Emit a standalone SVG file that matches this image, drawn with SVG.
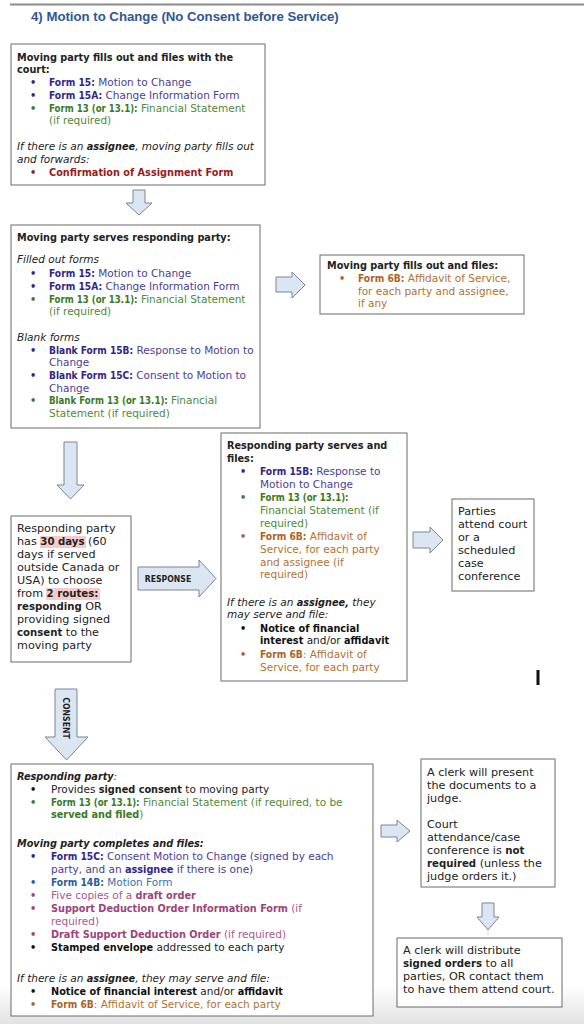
<svg xmlns="http://www.w3.org/2000/svg" width="584" height="1024" viewBox="0 0 584 1024">
<defs>
<linearGradient id="shade" x1="0" y1="0" x2="0" y2="1">
<stop offset="0" stop-color="#ffffff"/>
<stop offset="1" stop-color="#e2e2e2"/>
</linearGradient>
</defs>
<style>
.box{fill:#fff;stroke:#6b6b6b;stroke-width:1}
.arr{fill:#dce6f2;stroke:#7a8594;stroke-width:1}
text{font-family:"DejaVu Sans",sans-serif;font-size:10.5px;fill:#222}
.b,.pub,.grb,.orb,.rd,.pkb,.blb,.lbl{font-family:"DejaVu Sans Condensed","DejaVu Sans",sans-serif;font-weight:bold;font-stretch:condensed;font-size:10.8px}
.i{font-style:italic}
.pu{fill:#4a3d9a}
.pub{fill:#32258a}
.gr{fill:#4e8a3b}
.grb{fill:#3a7a25}
.or{fill:#b5712f}
.orb{fill:#ad6322}
.rd{fill:#9c1a1a}
.pk{fill:#a85a8c}
.pkb{fill:#9c4479}
.bl{fill:#3b6fb0}
.blb{fill:#2a5ca3}
.k{fill:#111}
.n1{font-size:10.2px}
.n2{font-size:10.1px}
.n3{font-size:9.6px}
.lg text{font-size:11.2px}
.lg .b{font-size:11.3px}
.title{font-family:"Liberation Sans",Arial,sans-serif;font-size:13.2px;font-weight:bold;fill:#2f5597}
.lbl{font-size:8.6px;fill:#222}
</style>
<rect x="0" y="985" width="584" height="39" fill="url(#shade)"/>
<line x1="10" y1="4.5" x2="584" y2="4.5" stroke="#8c8c8c" stroke-width="2"/>
<text class="title" x="31" y="21">4)  Motion to Change (No Consent before Service)</text>

<g id="connectors">
<path class="arr" d="M133,190H145V203H152L139,215L126,203H133Z"/>
<path class="arr" d="M276,277H292V272L305,285L292,298V292H276Z"/>
<path class="arr" d="M64,442H77V485H84L70.5,499L57,485H64Z"/>
<path class="arr" d="M138,567H199V560L216,578.5L199,597V590H138Z"/>
<text class="lbl" x="168" y="581.5" text-anchor="middle">RESPONSE</text>
<path class="arr" d="M55,689H77V737H88L66.5,760L45,737H55Z"/>
<text class="lbl" transform="translate(63,718) rotate(90)" text-anchor="middle">CONSENT</text>
<path class="arr" d="M413,532H430V527L443,540L430,553V548H413Z"/>
<path class="arr" d="M381,825H397V820L410,831L397,842V837H381Z"/>
<path class="arr" d="M482,903H494V917H499L488,930L477,917H482Z"/>
</g>

<g id="node1">
<rect class="box" x="11" y="44" width="254" height="141"/>
<text class="b" x="17" y="61">Moving party fills out and files with the</text>
<text class="b" x="17" y="73">court:</text>
<text class="pub" x="30" y="86">•</text><text x="49" y="86"><tspan class="pub n1">Form 15:</tspan><tspan class="pu"> Motion to Change</tspan></text>
<text class="pub" x="30" y="99">•</text><text x="49" y="99"><tspan class="pub n1">Form 15A:</tspan><tspan class="pu"> Change Information Form</tspan></text>
<text class="grb" x="30" y="112">•</text><text x="49" y="112"><tspan class="grb n3">Form 13 (or 13.1):</tspan><tspan class="gr">  Financial Statement</tspan></text>
<text class="gr" x="49" y="124">(if required)</text>
<text x="17" y="150"><tspan class="i">If there is an </tspan><tspan class="i b">assignee</tspan><tspan class="i">, moving party fills out</tspan></text>
<text class="i" x="17" y="163">and forwards:</text>
<text class="rd" x="30" y="176">•</text><text class="rd" x="49" y="176">Confirmation of Assignment Form</text>
</g>

<g id="node2">
<rect class="box" x="11" y="225" width="249" height="203"/>
<text class="b" x="17" y="241">Moving party serves responding party:</text>
<text class="i" x="17" y="263">Filled out forms</text>
<text class="pub" x="30" y="277">•</text><text x="49" y="277"><tspan class="pub n1">Form 15:</tspan><tspan class="pu"> Motion to Change</tspan></text>
<text class="pub" x="30" y="290">•</text><text x="49" y="290"><tspan class="pub n1">Form 15A:</tspan><tspan class="pu"> Change Information Form</tspan></text>
<text class="grb" x="30" y="303">•</text><text x="49" y="303"><tspan class="grb n3">Form 13 (or 13.1):</tspan><tspan class="gr"> Financial Statement</tspan></text>
<text class="gr" x="49" y="315">(if required)</text>
<text class="i" x="17" y="341">Blank forms</text>
<text class="pub" x="30" y="354">•</text><text x="49" y="354"><tspan class="pub n2">Blank Form 15B:</tspan><tspan class="pu"> Response to Motion to</tspan></text>
<text class="pu" x="49" y="366">Change</text>
<text class="pub" x="30" y="379">•</text><text x="49" y="379"><tspan class="pub n2">Blank Form 15C:</tspan><tspan class="pu"> Consent to Motion to</tspan></text>
<text class="pu" x="49" y="392">Change</text>
<text class="grb" x="30" y="404">•</text><text x="49" y="404"><tspan class="grb n3">Blank Form 13 (or 13.1):</tspan><tspan class="gr"> Financial</tspan></text>
<text class="gr" x="49" y="417">Statement (if required)</text>
</g>

<g id="node3">
<rect class="box" x="320" y="255" width="204" height="59"/>
<text class="b" x="327" y="269">Moving party fills out and files:</text>
<text class="orb" x="339" y="282">•</text><text x="358" y="282"><tspan class="orb n1">Form 6B:</tspan><tspan class="or"> Affidavit of Service,</tspan></text>
<text class="or" x="358" y="295">for each party and assignee,</text>
<text class="or" x="358" y="307">if any</text>
</g>

<g id="node4" class="lg">
<rect class="box" x="11" y="516" width="120" height="146"/>
<rect x="40" y="536" width="46" height="12" fill="#f4cccc"/>
<rect x="46" y="588" width="54" height="12" fill="#f4cccc"/>
<text x="17" y="532">Responding party</text>
<text x="17" y="545">has <tspan class="b">30 days</tspan> (60</text>
<text x="17" y="558">days if served</text>
<text x="17" y="571">outside Canada or</text>
<text x="17" y="584">USA) to choose</text>
<text x="17" y="597">from <tspan class="b">2 routes:</tspan></text>
<text x="17" y="610"><tspan class="b">responding</tspan> OR</text>
<text x="17" y="623">providing signed</text>
<text x="17" y="636"><tspan class="b">consent</tspan> to the</text>
<text x="17" y="649">moving party</text>
</g>

<g id="node5">
<rect class="box" x="221" y="433" width="186" height="248"/>
<text class="b" x="227" y="449">Responding party serves and</text>
<text class="b" x="227" y="462">files:</text>
<text class="pub" x="240" y="475">•</text><text x="260" y="475"><tspan class="pub n1">Form 15B:</tspan><tspan class="pu"> Response to</tspan></text>
<text class="pu" x="260" y="488">Motion to Change</text>
<text class="grb" x="240" y="501">•</text><text class="grb n3" x="260" y="501">Form 13 (or 13.1):</text>
<text class="gr" x="260" y="514">Financial Statement (if</text>
<text class="gr" x="260" y="527">required)</text>
<text class="orb" x="240" y="540">•</text><text x="260" y="540"><tspan class="orb n1">Form 6B:</tspan><tspan class="or"> Affidavit of</tspan></text>
<text class="or" x="260" y="553">Service, for each party</text>
<text class="or" x="260" y="566">and assignee (if</text>
<text class="or" x="260" y="578">required)</text>
<text x="227" y="606"><tspan class="i">If there is an </tspan><tspan class="i b">assignee,</tspan><tspan class="i"> they</tspan></text>
<text class="i" x="227" y="618">may serve and file:</text>
<text class="k b" x="240" y="632">•</text><text class="k b" x="260" y="632">Notice of financial</text>
<text x="260" y="644"><tspan class="k b">interest</tspan> and/or <tspan class="k b">affidavit</tspan></text>
<text class="orb" x="240" y="658">•</text><text x="260" y="658"><tspan class="orb n1">Form 6B</tspan><tspan class="or">: Affidavit of</tspan></text>
<text class="or" x="260" y="671">Service, for each party</text>
</g>

<g id="node6" class="lg">
<rect class="box" x="452" y="499" width="82" height="92"/>
<text x="458" y="515">Parties</text>
<text x="458" y="528">attend court</text>
<text x="458" y="541">or a</text>
<text x="458" y="554">scheduled</text>
<text x="458" y="567">case</text>
<text x="458" y="580">conference</text>
</g>

<rect x="536.5" y="670" width="3" height="15" fill="#111"/>

<g id="node7">
<rect class="box" x="11" y="764" width="362" height="252"/>
<text class="b i" x="17" y="780">Responding party<tspan font-weight="normal">:</tspan></text>
<text class="k b" x="30" y="793">•</text><text x="51" y="793">Provides <tspan class="b">signed consent</tspan> to moving party</text>
<text class="grb" x="30" y="806">•</text><text x="51" y="806"><tspan class="grb n3">Form 13 (or 13.1):</tspan><tspan class="gr"> Financial Statement (if required, to be</tspan></text>
<text x="51" y="818"><tspan class="grb">served and filed</tspan><tspan class="gr">)</tspan></text>
<text class="b i" x="17" y="847">Moving party completes and files:</text>
<text class="pub" x="30" y="860">•</text><text x="51" y="860"><tspan class="pub n1">Form 15C:</tspan><tspan class="pu"> Consent Motion to Change (signed by each</tspan></text>
<text x="51" y="873"><tspan class="pu">party, and an </tspan><tspan class="pub">assignee</tspan><tspan class="pu"> if there is one)</tspan></text>
<text class="blb" x="30" y="886">•</text><text x="51" y="886"><tspan class="blb n1">Form 14B:</tspan><tspan class="bl"> Motion Form</tspan></text>
<text class="pkb" x="30" y="899">•</text><text x="51" y="899"><tspan class="pk">Five copies of a </tspan><tspan class="pkb">draft order</tspan></text>
<text class="pkb" x="30" y="912">•</text><text x="51" y="912"><tspan class="pkb">Support Deduction Order Information Form</tspan><tspan class="pk"> (if</tspan></text>
<text class="pk" x="51" y="925">required)</text>
<text class="pkb" x="30" y="938">•</text><text x="51" y="938"><tspan class="pkb">Draft Support Deduction Order</tspan><tspan class="pk"> (if required)</tspan></text>
<text class="k b" x="30" y="951">•</text><text x="51" y="951"><tspan class="k b">Stamped envelope</tspan> addressed to each party</text>
<text x="17" y="982"><tspan class="i">If there is an </tspan><tspan class="i b">assignee</tspan><tspan class="i">, they may serve and file:</tspan></text>
<text class="k b" x="30" y="995">•</text><text x="51" y="995"><tspan class="k b">Notice of financial interest</tspan> and/or <tspan class="k b">affidavit</tspan></text>
<text class="orb" x="30" y="1008">•</text><text x="51" y="1008"><tspan class="orb n1">Form 6B</tspan><tspan class="or">: Affidavit of Service, for each party</tspan></text>
</g>

<g id="node8" class="lg">
<rect class="box" x="421" y="759" width="134" height="128"/>
<text x="427" y="776">A clerk will present</text>
<text x="427" y="789">the documents to a</text>
<text x="427" y="802">judge.</text>
<text x="427" y="828">Court</text>
<text x="427" y="841">attendance/case</text>
<text x="427" y="854">conference is <tspan class="b">not</tspan></text>
<text x="427" y="867"><tspan class="b">required</tspan> (unless the</text>
<text x="427" y="880">judge orders it.)</text>
</g>

<g id="node9" class="lg">
<rect class="box" x="397" y="938" width="165" height="69"/>
<text x="403" y="954">A clerk will distribute</text>
<text x="403" y="967"><tspan class="b">signed orders</tspan> to all</text>
<text x="403" y="980">parties, OR contact them</text>
<text x="403" y="993">to have them attend court.</text>
</g>
</svg>
